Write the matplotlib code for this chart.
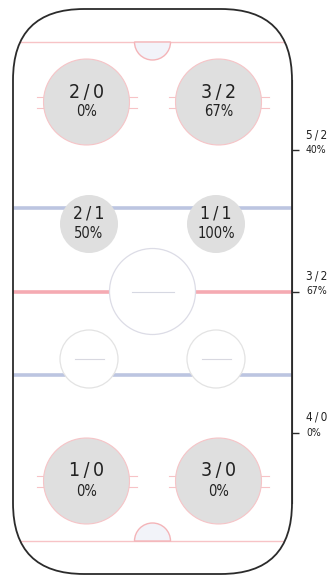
import matplotlib.pyplot as plt
from matplotlib.patches import FancyBboxPatch, Circle, Wedge

# faceoff spot results: shots / goals, read top-left -> bottom-right
spot_shots = [2, 3, 2, 1, 1, 3]
spot_goals = [0, 2, 1, 1, 0, 0]
# zone totals shown on the right (top, middle, bottom half of the rink)
zone_shots = [5, 3, 4]
zone_goals = [2, 2, 0]

plt.rcParams['font.family'] = ['DejaVu Sans']
plt.rcParams['font.stretch'] = 'condensed'
SEP = '\u2009/\u2009'

W, L = 279, 565          # rink size in pixels
CORNER = 71
GOAL = 33
BLUE = 199
END_R, DOT_R = 43, 29
end_x = [73.5, 205.5]
end_y = [93, L - 93]
dot_x = [76, 203]
dot_y = [215, L - 215]

fig = plt.figure(figsize=(3.28, 5.76), dpi=100)
ax = fig.add_axes([13 / 328, 2 / 576, W / 328, L / 576])
ax.set_xlim(0, W)
ax.set_ylim(L, 0)
for s in ax.spines.values():
    s.set_visible(False)
ax.spines['right'].set_visible(True)
ax.spines['right'].set_bounds(CORNER, L - CORNER)
ax.spines['right'].set_color('#2b2b2b')
ax.set_xticks([])

rink = FancyBboxPatch((0, 0), W, L, boxstyle=f"round,pad=0,rounding_size={CORNER}",
                      fc='white', ec='none', zorder=0)
ax.add_patch(rink)

def hline(y, color, lw, z=1):
    ln, = ax.plot([0, W], [y, y], color=color, lw=lw, zorder=z, solid_capstyle='butt')
    ln.set_clip_path(rink)

hline(GOAL, '#f7c3c6', 1.0)
hline(L - GOAL, '#f7c3c6', 1.0)
hline(BLUE, '#bcc5e1', 2.6)
hline(L - BLUE, '#bcc5e1', 2.6)
hline(L / 2, '#f5aab2', 2.6)

# goal creases (y axis is inverted, so 0-180 opens downward)
for y, t1, t2 in [(GOAL, 0, 180), (L - GOAL, 180, 360)]:
    ax.add_patch(Wedge((W / 2, y), 18, t1, t2, fc='#f2f3f9', ec='#f4b4b8', lw=1.0, zorder=2))

# center circle
ax.add_patch(Circle((W / 2, L / 2), END_R, fc='white', ec='#dcdce6', lw=0.9, zorder=3))
ax.plot([W / 2 - 21, W / 2 + 21], [L / 2, L / 2], color='#d6d8e2', lw=0.8, zorder=4)

# empty neutral zone spots
for x in dot_x:
    ax.add_patch(Circle((x, dot_y[1]), DOT_R, fc='white', ec='#e3e3e3', lw=0.9, zorder=3))
    ax.plot([x - 14.5, x + 14.5], [dot_y[1], dot_y[1]], color='#d8d8e0', lw=0.8, zorder=4)

def spot(cx, cy, r, shots, goals, top, bottom, hashes=False):
    if hashes:
        for dy in (-5.5, 5.5):
            for x0, x1 in [(cx - r - 7, cx - r + 3), (cx + r - 3, cx + r + 7)]:
                ax.plot([x0, x1], [cy + dy, cy + dy], color='#f7c3c6', lw=0.8, zorder=2)
    ax.add_patch(Circle((cx, cy), r, fc='#dfdfdf', ec='#f6c4c7' if hashes else 'none',
                        lw=0.8, zorder=3))
    pct = round(100 * goals / shots) if shots else 0
    ax.text(cx, cy - 10, f"{shots}{SEP}{goals}", ha='center', va='center',
            fontsize=top, color='#222222', zorder=5)
    ax.text(cx, cy + 10, f"{pct}%", ha='center', va='center',
            fontsize=bottom, color='#222222', zorder=5)

centers = [(end_x[0], end_y[0]), (end_x[1], end_y[0]),
           (dot_x[0], dot_y[0]), (dot_x[1], dot_y[0]),
           (end_x[0], end_y[1]), (end_x[1], end_y[1])]
for i, (cx, cy) in enumerate(centers):
    if i in (2, 3):
        spot(cx, cy, DOT_R, spot_shots[i], spot_goals[i], 12.5, 10.5)
    else:
        spot(cx, cy, END_R, spot_shots[i], spot_goals[i], 14, 10.5, hashes=True)

# rink boards
ax.add_patch(FancyBboxPatch((0, 0), W, L, boxstyle=f"round,pad=0,rounding_size={CORNER}",
                            fc='none', ec='#2b2b2b', lw=1.3, zorder=6, clip_on=False))

# zone totals on the right
zone_pos = [L / 4, L / 2, 3 * L / 4]
ax.yaxis.tick_right()
ax.set_yticks(zone_pos)
ax.set_yticklabels([])
ax.tick_params(axis='y', length=5, width=1, color='#2b2b2b')
for y, s, g in zip(zone_pos, zone_shots, zone_goals):
    pct = round(100 * g / s) if s else 0
    ax.annotate(f"{s}{SEP}{g}", (1, y), xycoords=('axes fraction', 'data'),
                xytext=(10, 11), textcoords='offset points', ha='left', va='center',
                fontsize=8.5, color='#222222', annotation_clip=False)
    ax.annotate(f"{pct}%", (1, y), xycoords=('axes fraction', 'data'),
                xytext=(10, 0), textcoords='offset points', ha='left', va='center',
                fontsize=7.5, color='#222222', annotation_clip=False)

fig.savefig('out.png', dpi=100)
